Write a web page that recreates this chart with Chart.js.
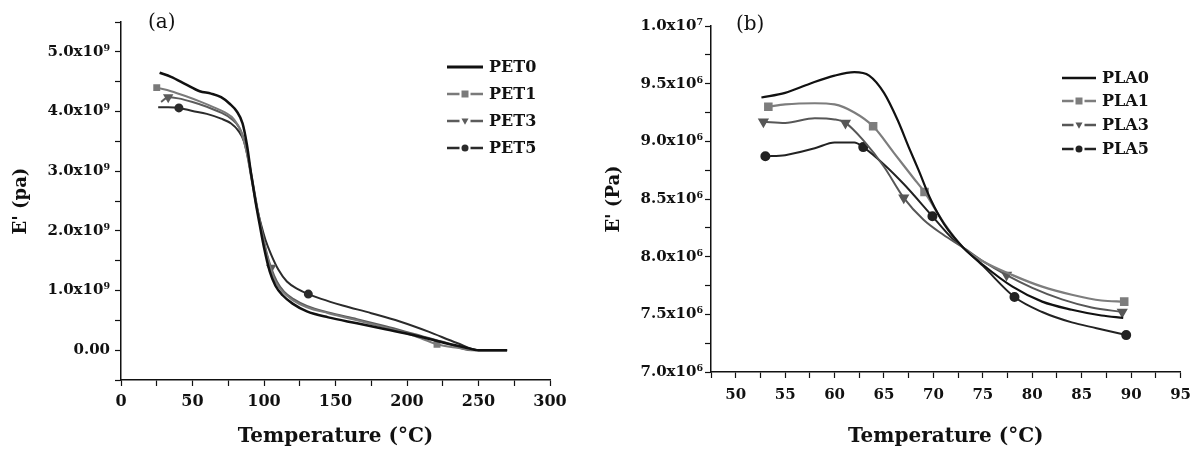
<!DOCTYPE html>
<html>
<head>
<meta charset="utf-8">
<script src="https://cdn.jsdelivr.net/npm/chart.js@4/dist/chart.umd.min.js"></script>
<style>
  body { margin: 0; background: #fff; }
  #wrap { position: relative; width: 1199px; height: 450px; }
  canvas { position: absolute; top: 0; }
  #chartA { left: 0; }
  #chartB { left: 590px; }
  .tag { position: absolute; font-family: "DejaVu Serif", serif; font-size: 20px; color: #111; }
</style>
</head>
<body>
<div id="wrap">
  <canvas id="chartA" width="590" height="450"></canvas>
  <canvas id="chartB" width="609" height="450"></canvas>
  <div class="tag" style="left:148px; top:9px;">(a)</div>
  <div class="tag" style="left:736px; top:11px;">(b)</div>
</div>
<script>
// panel (a) : PET, E' in units of 10^9 Pa
const pet0T = [27, 35, 45, 55, 63, 70, 76, 81, 85, 88, 91, 94, 97, 100, 104, 108, 113, 120, 130, 145, 165, 185, 205, 225, 240, 250, 270];
const pet0E = [4.65, 4.58, 4.46, 4.34, 4.30, 4.24, 4.13, 4.00, 3.80, 3.45, 2.95, 2.50, 2.10, 1.72, 1.32, 1.08, 0.92, 0.78, 0.65, 0.55, 0.45, 0.35, 0.25, 0.13, 0.05, 0.0, 0.0];
const pet1T = [25, 35, 45, 55, 65, 73, 79, 84, 88, 91, 94, 97, 100, 104, 108, 113, 120, 130, 145, 165, 185, 205, 221, 235, 248, 270];
const pet1E = [4.40, 4.34, 4.26, 4.17, 4.07, 3.98, 3.87, 3.66, 3.30, 2.90, 2.50, 2.15, 1.80, 1.42, 1.15, 0.98, 0.84, 0.72, 0.62, 0.50, 0.38, 0.24, 0.10, 0.04, 0.0, 0.0];
const pet3T = [28, 33, 40, 50, 60, 70, 77, 83, 87, 90, 93, 96, 99, 102, 105, 109, 114, 121, 130, 145, 165, 185, 205, 225, 245, 270];
const pet3E = [4.16, 4.24, 4.22, 4.16, 4.08, 3.98, 3.88, 3.72, 3.45, 3.10, 2.70, 2.30, 1.95, 1.62, 1.38, 1.15, 0.98, 0.85, 0.74, 0.63, 0.52, 0.40, 0.27, 0.14, 0.0, 0.0];
const pet5T = [26, 33, 40.5, 50, 60, 70, 77, 82, 86, 89, 92, 95, 98, 101, 105, 110, 116, 124, 131, 140, 155, 175, 195, 215, 235, 250, 270];
const pet5E = [4.07, 4.07, 4.06, 4.01, 3.96, 3.88, 3.80, 3.68, 3.50, 3.20, 2.80, 2.40, 2.10, 1.85, 1.60, 1.35, 1.15, 1.02, 0.94, 0.86, 0.75, 0.62, 0.48, 0.31, 0.12, 0.0, 0.0];
// temperatures carrying a symbol
const pet1Marks = [25, 221];
const pet3Marks = [33, 105];
const pet5Marks = [40.5, 131];

// panel (b) : PLA, E' in units of 10^6 Pa
const pla0T = [52.6, 55, 57.5, 60, 62, 63.5, 65, 66.4, 67.5, 68.5, 69.7, 71.1, 73, 75, 78, 81, 84, 87, 89.2];
const pla0E = [9.38, 9.42, 9.50, 9.57, 9.60, 9.57, 9.42, 9.18, 8.95, 8.75, 8.50, 8.28, 8.08, 7.93, 7.74, 7.61, 7.54, 7.49, 7.47];
const pla1T = [53.3, 55, 58, 60, 62, 63.9, 66, 68, 69.1, 71, 73, 75, 78, 81, 84, 87, 89.3];
const pla1E = [9.30, 9.32, 9.33, 9.32, 9.25, 9.13, 8.90, 8.68, 8.56, 8.30, 8.08, 7.96, 7.84, 7.74, 7.67, 7.62, 7.61];
const pla3T = [52.8, 55, 58, 60, 61.1, 63, 65, 67, 69, 71, 73, 75, 77.4, 80, 83, 86, 89.1];
const pla3E = [9.17, 9.16, 9.20, 9.19, 9.16, 9.00, 8.78, 8.51, 8.32, 8.19, 8.08, 7.96, 7.84, 7.73, 7.63, 7.56, 7.52];
const pla5T = [53, 55, 58, 60, 62, 62.9, 65, 67, 69.9, 72, 73, 75, 78.2, 81, 84, 86.5, 89.5];
const pla5E = [8.87, 8.88, 8.94, 8.99, 8.99, 8.95, 8.80, 8.63, 8.35, 8.15, 8.08, 7.92, 7.65, 7.52, 7.43, 7.38, 7.32];
const pla1Marks = [53.3, 63.9, 69.1, 89.3];
const pla3Marks = [52.8, 61.1, 67, 77.4, 89.1];
const pla5Marks = [53, 62.9, 69.9, 78.2, 89.5];

const serif = "'DejaVu Serif', serif";

function pts(t, e) {
  return t.map((x, i) => ({ x: x, y: e[i] }));
}

function markAt(list, r) {
  return (ctx) => (ctx.raw && list.includes(ctx.raw.x) ? r : 0);
}

function series(label, t, e, color, width, style, marks, r) {
  return {
    label: label,
    data: pts(t, e),
    borderColor: color,
    backgroundColor: color,
    borderWidth: width,
    cubicInterpolationMode: "monotone",
    pointStyle: style || "circle",
    pointRotation: style === "triangle" ? 180 : 0,
    pointRadius: marks ? markAt(marks, r) : 0,
    pointHoverRadius: 0,
  };
}

//legend drawn inside the plot
const insideLegend = {
  id: "insideLegend",
  afterDatasetsDraw(chart, args, opts) {
    const ctx = chart.ctx;
    ctx.save();
    chart.data.datasets.forEach((ds, i) => {
      const y = opts.rows[i];
      ctx.strokeStyle = ds.borderColor;
      ctx.lineWidth = ds.borderWidth + 0.5;
      ctx.beginPath();
      ctx.moveTo(opts.x0, y);
      ctx.lineTo(opts.x1, y);
      ctx.stroke();
      const cx = (opts.x0 + opts.x1) / 2;
      const r = opts.r;
      ctx.fillStyle = ds.borderColor;
      if (i > 0) {
        ctx.fillStyle = "#fff";
        ctx.fillRect(cx - r - 2, y - 3, 2 * r + 4, 6);
        ctx.fillStyle = ds.borderColor;
        ctx.beginPath();
        if (ds.pointStyle === "rect") {
          ctx.rect(cx - r, y - r, 2 * r, 2 * r);
        } else if (ds.pointStyle === "triangle") {
          ctx.moveTo(cx - r, y - r * 0.7);
          ctx.lineTo(cx + r, y - r * 0.7);
          ctx.lineTo(cx, y + r * 1.1);
          ctx.closePath();
        } else {
          ctx.arc(cx, y, r, 0, Math.PI * 2);
        }
        ctx.fill();
      }
      ctx.fillStyle = "#111";
      ctx.font = "bold 16px " + serif;
      ctx.textBaseline = "middle";
      ctx.fillText(ds.label, opts.tx, y + 1);
    });
    ctx.restore();
  },
};

function axisOpts(o) {
  return {
    type: "linear",
    min: o.min,
    max: o.max,
    border: { display: true, color: "#111", width: 1.5 },
    grid: { drawOnChartArea: false, drawTicks: true, tickLength: 6, color: "#111", tickWidth: 1.2 },
    ticks: {
      stepSize: o.step,
      autoSkip: false,
      maxRotation: 0,
      padding: o.pad,
      color: "#111",
      font: { family: serif, size: o.size || 15, weight: "bold" },
      callback: o.fmt,
    },
    title: {
      display: true,
      text: o.title,
      color: "#111",
      font: { family: serif, size: o.tsize, weight: "bold" },
      padding: o.tpad,
    },
    afterFit: o.fit,
  };
}

const isMajor = (v, m) => Math.abs(v / m - Math.round(v / m)) < 1e-6;

new Chart(document.getElementById("chartA"), {
  type: "line",
  data: {
    datasets: [
      series("PET0", pet0T, pet0E, "#111", 2.5),
      series("PET1", pet1T, pet1E, "#7a7a7a", 2, "rect", pet1Marks, 3.5),
      series("PET3", pet3T, pet3E, "#5c5c5c", 2, "triangle", pet3Marks, 4),
      series("PET5", pet5T, pet5E, "#2b2b2b", 2, "circle", pet5Marks, 3.5),
    ],
  },
  options: {
    responsive: false,
    animation: false,
    layout: { padding: { left: 0, top: 22, right: 40, bottom: 0 } },
    plugins: {
      legend: { display: false },
      tooltip: { enabled: false },
      insideLegend: { x0: 447, x1: 483, tx: 489, r: 3.5, rows: [67, 94, 121, 148] },
    },
    scales: {
      x: axisOpts({
        min: 0, max: 300, step: 25, pad: 6, size: 16,
        fmt: (v) => (isMajor(v, 50) ? String(v) : ""),
        title: "Temperature (°C)", tsize: 20, tpad: { top: 0, bottom: 1 },
        fit: (s) => { s.height = 70; },
      }),
      y: axisOpts({
        min: -0.5, max: 5.5, step: 0.5, pad: 5,
        fmt: (v) => (isMajor(v, 1) ? (Math.abs(v) < 1e-6 ? "0.00" : v.toFixed(1) + "x10⁹") : ""),
        title: "E' (pa)", tsize: 18, tpad: { top: 11, bottom: 0 },
        fit: (s) => { s.width = 121; },
      }),
    },
  },
  plugins: [insideLegend],
});

new Chart(document.getElementById("chartB"), {
  type: "line",
  data: {
    datasets: [
      series("PLA0", pla0T, pla0E, "#111", 2.2),
      series("PLA1", pla1T, pla1E, "#7d7d7d", 2.2, "rect", pla1Marks, 4.5),
      series("PLA3", pla3T, pla3E, "#575757", 2, "triangle", pla3Marks, 4.5),
      series("PLA5", pla5T, pla5E, "#222", 2, "circle", pla5Marks, 4),
    ],
  },
  options: {
    responsive: false,
    animation: false,
    layout: { padding: { left: 0, top: 26, right: 17, bottom: 0 } },
    plugins: {
      legend: { display: false },
      tooltip: { enabled: false },
      insideLegend: { x0: 472, x1: 506, tx: 512, r: 3.5, rows: [78, 101, 125, 149] },
    },
    scales: {
      x: axisOpts({
        min: 47.5, max: 95, step: 2.5, pad: 8,
        fmt: (v) => (isMajor(v, 5) ? String(v) : ""),
        title: "Temperature (°C)", tsize: 20, tpad: { top: 0, bottom: 1 },
        fit: (s) => { s.height = 78; },
      }),
      y: axisOpts({
        min: 7, max: 10, step: 0.25, pad: 2,
        fmt: (v) => (isMajor(v, 0.5) ? (v >= 10 ? "1.0x10⁷" : v.toFixed(1) + "x10⁶") : ""),
        title: "E' (Pa)", tsize: 18, tpad: { top: 14, bottom: 0 },
        fit: (s) => { s.width = 121; },
      }),
    },
  },
  plugins: [insideLegend],
});
</script>
</body>
</html>
